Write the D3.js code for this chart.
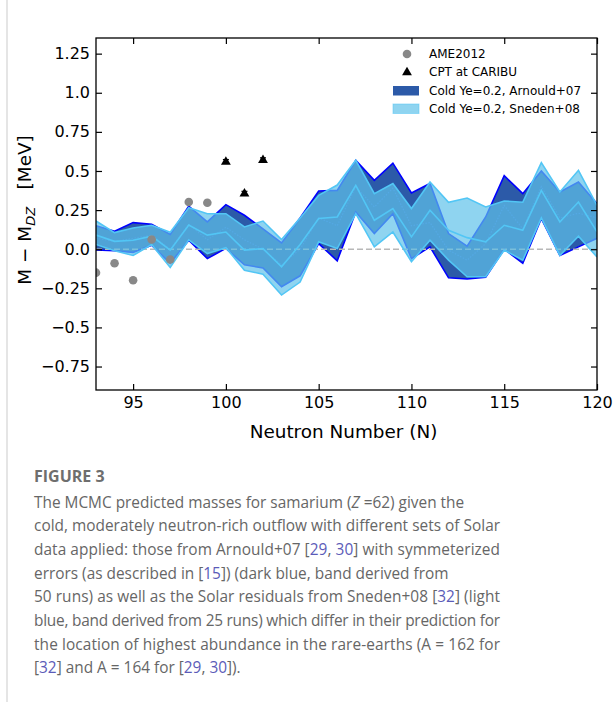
<!DOCTYPE html>
<html>
<head>
<meta charset="utf-8">
<script src="https://cdn.jsdelivr.net/npm/d3@7"></script>
<style>
  body { margin: 0; background: #fff; }
  svg text { font-family: "DejaVu Sans", sans-serif; }
  .cap { font-family: "Open Sans", sans-serif; fill: #666; font-size: 15.4px; }
  .ref { fill: #5b5bb8; }
</style>
</head>
<body>
<svg id="chart"></svg>
<script>
//chart size and plot box
const width  = 614;
const height = 702;
const margin = { left: 96, top: 38, right: 17, bottom: 312 };

// neutron numbers
const neutronN = [93, 94, 95, 96, 97, 98, 99, 100, 101, 102, 103, 104, 105, 106,
                  107, 108, 109, 110, 111, 112, 113, 114, 115, 116, 117, 118, 119, 120];

// Arnould+07 band (dark blue)
const arnLow  = [-0.005, -0.01, -0.02, 0.025, -0.09, 0.057, -0.06, 0.005, -0.10, -0.12, -0.24, -0.17, 0.036, -0.074,
                  0.238, 0.10, 0.227, -0.06, 0.015, -0.183, -0.19, -0.18, 0.0, -0.09, 0.196, -0.04, 0.015, 0.07];
const arnHigh = [0.15, 0.115, 0.17, 0.16, 0.095, 0.275, 0.175, 0.285, 0.217, 0.13, 0.04, 0.2, 0.372, 0.376,
                 0.568, 0.44, 0.55, 0.36, 0.42, 0.10, 0.02, 0.206, 0.47, 0.355, 0.50, 0.366, 0.43, 0.29];
const arnMid  = [0.07, 0.05, 0.07, 0.09, 0.0, 0.16, 0.06, 0.14, 0.06, 0.0, -0.1, 0.0, 0.2, 0.15,
                 0.4, 0.27, 0.39, 0.15, 0.17, -0.006, -0.07, 0.036, 0.28, 0.13, 0.4, 0.2, 0.23, 0.2];

// Sneden+08 band (light blue)
const snLow  = [0.03, -0.01, -0.04, 0.03, -0.117, 0.06, -0.028, 0.01, -0.134, -0.16, -0.293, -0.21, 0.047, 0.004,
                0.227, 0.015, 0.11, -0.08, 0.057, -0.07, -0.176, -0.176, -0.006, -0.07, 0.2, -0.04, 0.083, -0.05];
const snHigh = [0.18, 0.106, 0.136, 0.153, 0.108, 0.265, 0.227, 0.227, 0.142, 0.18, 0.062, 0.2, 0.344, 0.41,
                0.568, 0.355, 0.42, 0.26, 0.43, 0.30, 0.327, 0.27, 0.308, 0.30, 0.553, 0.366, 0.504, 0.28];
const snMid  = [0.09, 0.05, 0.057, 0.083, -0.006, 0.155, 0.09, 0.11, -0.006, 0.004, -0.113, 0.03, 0.196, 0.206,
                0.408, 0.185, 0.26, 0.079, 0.249, 0.121, 0.074, 0.047, 0.153, 0.121, 0.376, 0.174, 0.302, 0.111];

// measured masses
const ameN = [93, 94, 95, 96, 97, 98, 99];
const ameV = [-0.15, -0.09, -0.198, 0.062, -0.066, 0.302, 0.297];
const cptN = [100, 101, 102];
const cptV = [0.561, 0.358, 0.572];
const cptErr = [0.012, 0.012, 0.012];

const xTicks = [95, 100, 105, 110, 115, 120];
const yTicks = [-0.75, -0.5, -0.25, 0, 0.25, 0.5, 0.75, 1.0, 1.25];
const yTickLabels = ["\u22120.75", "\u22120.5", "\u22120.25", "0.0", "0.25", "0.5", "0.75", "1.0", "1.25"];

const legendItems = ["AME2012", "CPT at CARIBU", "Cold Ye=0.2, Arnould+07", "Cold Ye=0.2, Sneden+08"];

const darkFill = "#2c5aa8";
const darkEdge = "#0000ff";
const lightFill = "#5fc2ea";
const lightEdge = "#52c6f5";

function init() {
    const svg = d3.select("svg#chart").attr("width", width).attr("height", height);
    const visW = width - margin.left - margin.right;
    const visH = height - margin.top - margin.bottom;

    // page border line at left
    svg.append("line").attr("x1", 7).attr("x2", 7).attr("y1", 0).attr("y2", height)
        .attr("stroke", "#d4d4d4").attr("stroke-width", 1.2);

    const g = svg.append("g").attr("transform", "translate(" + margin.left + "," + margin.top + ")");

    const x = d3.scaleLinear().domain([93, 120]).range([0, visW]);
    const y = d3.scaleLinear().domain([-0.9, 1.35]).range([visH, 0]);

    g.append("clipPath").attr("id", "clip").append("rect").attr("width", visW).attr("height", visH);
    const plot = g.append("g").attr("clip-path", "url(#clip)");

    const rows = neutronN.map((n, i) => ({
        n: n, aLo: arnLow[i], aHi: arnHigh[i], aMid: arnMid[i],
        sLo: snLow[i], sHi: snHigh[i], sMid: snMid[i]
    }));

    // dark band
    plot.append("path").datum(rows)
        .attr("d", d3.area().x(d => x(d.n)).y0(d => y(d.aLo)).y1(d => y(d.aHi)))
        .attr("fill", darkFill);
    ["aLo", "aHi"].forEach(k => {
        plot.append("path").datum(rows)
            .attr("d", d3.line().x(d => x(d.n)).y(d => y(d[k])))
            .attr("fill", "none").attr("stroke", darkEdge).attr("stroke-width", 1.6);
    });
    plot.append("path").datum(rows)
        .attr("d", d3.line().x(d => x(d.n)).y(d => y(d.aMid)))
        .attr("fill", "none").attr("stroke", "#3b6fd6").attr("stroke-width", 1.2)
        .attr("stroke-dasharray", "1.5,1.5");

    // zero line
    plot.append("line").attr("x1", 0).attr("x2", visW).attr("y1", y(0)).attr("y2", y(0))
        .attr("stroke", "#b8b8b8").attr("stroke-width", 1.6).attr("stroke-dasharray", "6,3");

    // light band on top, semi transparent
    plot.append("path").datum(rows)
        .attr("d", d3.area().x(d => x(d.n)).y0(d => y(d.sLo)).y1(d => y(d.sHi)))
        .attr("fill", lightFill).attr("fill-opacity", 0.7);
    ["sLo", "sHi", "sMid"].forEach(k => {
        plot.append("path").datum(rows)
            .attr("d", d3.line().x(d => x(d.n)).y(d => y(d[k])))
            .attr("fill", "none").attr("stroke", lightEdge).attr("stroke-width", 1.6);
    });

    // AME2012 points
    plot.selectAll(".ame").data(ameN).enter().append("circle")
        .attr("class", "ame")
        .attr("cx", d => x(d)).attr("cy", (d, i) => y(ameV[i])).attr("r", 4.3)
        .attr("fill", "#888888");

    // CPT points with small error bars
    const tri = d3.symbol().type(d3.symbolTriangle).size(42);
    cptN.forEach((n, i) => {
        g.append("line").attr("x1", x(n)).attr("x2", x(n))
            .attr("y1", y(cptV[i] - cptErr[i])).attr("y2", y(cptV[i] + cptErr[i]))
            .attr("stroke", "black").attr("stroke-width", 1.5);
        g.append("line").attr("x1", x(n) - 3).attr("x2", x(n) + 3)
            .attr("y1", y(cptV[i] + cptErr[i])).attr("y2", y(cptV[i] + cptErr[i]))
            .attr("stroke", "black").attr("stroke-width", 1.2);
        g.append("path").attr("d", tri)
            .attr("transform", "translate(" + x(n) + "," + (y(cptV[i]) + 0.5) + ")")
            .attr("fill", "black");
    });

    // axes, ticks pointing inward on all four sides
    const fs = 16;
    const bottom = g.append("g").attr("transform", "translate(0," + visH + ")")
        .call(d3.axisBottom(x).tickValues(xTicks).tickSizeInner(-6).tickSizeOuter(0).tickPadding(7));
    const top = g.append("g")
        .call(d3.axisTop(x).tickValues(xTicks).tickSizeInner(-6).tickSizeOuter(0).tickFormat(""));
    const left = g.append("g")
        .call(d3.axisLeft(y).tickValues(yTicks).tickSizeInner(-6).tickSizeOuter(0).tickPadding(6)
            .tickFormat((d, i) => yTickLabels[i]));
    const right = g.append("g").attr("transform", "translate(" + visW + ",0)")
        .call(d3.axisRight(y).tickValues(yTicks).tickSizeInner(-6).tickSizeOuter(0).tickFormat(""));
    [bottom, top, left, right].forEach(a => {
        a.select(".domain").remove();
        a.selectAll(".tick line").attr("stroke", "black").attr("stroke-width", 1.2);
        a.selectAll("text").attr("font-size", fs).attr("fill", "black")
            .style("font-family", "DejaVu Sans");
    });
    g.append("rect").attr("width", visW).attr("height", visH)
        .attr("fill", "none").attr("stroke", "black").attr("stroke-width", 1.3);

    // axis titles
    const lfs = 18.4;
    g.append("text").attr("x", visW / 2 - 3).attr("y", visH + 48)
        .attr("text-anchor", "middle").attr("font-size", lfs).text("Neutron Number (N)");
    const yl = g.append("text").attr("transform", "translate(" + (25 - margin.left) + "," + (visH / 2 - 4) + ") rotate(-90)")
        .attr("text-anchor", "middle").attr("font-size", lfs).attr("dy", "0.35em")
        .attr("xml:space", "preserve");
    yl.append("tspan").text("M \u2212 M");
    yl.append("tspan").attr("font-size", 13).attr("font-style", "italic").attr("dy", 4).text("DZ");
    yl.append("tspan").attr("dy", -4).text("   [MeV]");

    // legend
    const lg = svg.append("g");
    const lx = 393, ly = [54, 72, 90.5, 108.5];
    lg.append("circle").attr("cx", lx + 14).attr("cy", ly[0]).attr("r", 4.3).attr("fill", "#888888");
    lg.append("path").attr("d", d3.symbol().type(d3.symbolTriangle).size(42))
        .attr("transform", "translate(" + (lx + 14) + "," + (ly[1] + 0.5) + ")").attr("fill", "black");
    lg.append("rect").attr("x", lx).attr("y", ly[2] - 4.5).attr("width", 26).attr("height", 9.5)
        .attr("fill", darkFill);
    lg.append("rect").attr("x", lx).attr("y", ly[3] - 4.5).attr("width", 26).attr("height", 9.5)
        .attr("fill", lightFill).attr("fill-opacity", 0.7).attr("stroke", lightEdge).attr("stroke-opacity", 0.5);
    lg.selectAll(".lt").data(legendItems).enter().append("text")
        .attr("x", lx + 36).attr("y", (d, i) => ly[i]).attr("dy", "0.36em")
        .attr("font-size", 12).attr("fill", "black").text(d => d);

    // caption
    const cap = svg.append("g");
    cap.append("text").attr("x", 34).attr("y", 482).attr("font-size", 16).attr("font-weight", "bold")
        .style("font-family", "Open Sans, sans-serif").attr("fill", "#6e6e6e").text("FIGURE 3");
    const lines = [
        { parts: [["The MCMC predicted masses for samarium (", ""], ["Z", "i"], [" =62) given the", ""]], just: false },
        { parts: [["cold, moderately neutron-rich outflow with different sets of Solar", ""]], just: true },
        { parts: [["data applied: those from Arnould+07 [", ""], ["29", "r"], [", ", ""], ["30", "r"], ["] with symmeterized", ""]], just: true },
        { parts: [["errors (as described in [", ""], ["15", "r"], ["]) (dark blue, band derived from", ""]], just: false },
        { parts: [["50 runs) as well as the Solar residuals from Sneden+08 [", ""], ["32", "r"], ["] (light", ""]], just: true },
        { parts: [["blue, band derived from 25 runs) which differ in their prediction for", ""]], just: true },
        { parts: [["the location of highest abundance in the rare-earths (A = 162 for", ""]], just: true },
        { parts: [["[", ""], ["32", "r"], ["] and A = 164 for [", ""], ["29", "r"], [", ", ""], ["30", "r"], ["]).", ""]], just: false }
    ];
    lines.forEach((ln, i) => {
        const t = cap.append("text").attr("class", "cap").attr("x", 34).attr("y", 507.5 + i * 23.7)
            .attr("xml:space", "preserve");
        if (ln.just) t.attr("textLength", 466).attr("lengthAdjust", "spacing");
        ln.parts.forEach(p => {
            const s = t.append("tspan").text(p[0]);
            if (p[1] === "i") s.attr("font-style", "italic");
            if (p[1] === "r") s.attr("class", "ref");
        });
    });
}

init();
</script>
</body>
</html>
